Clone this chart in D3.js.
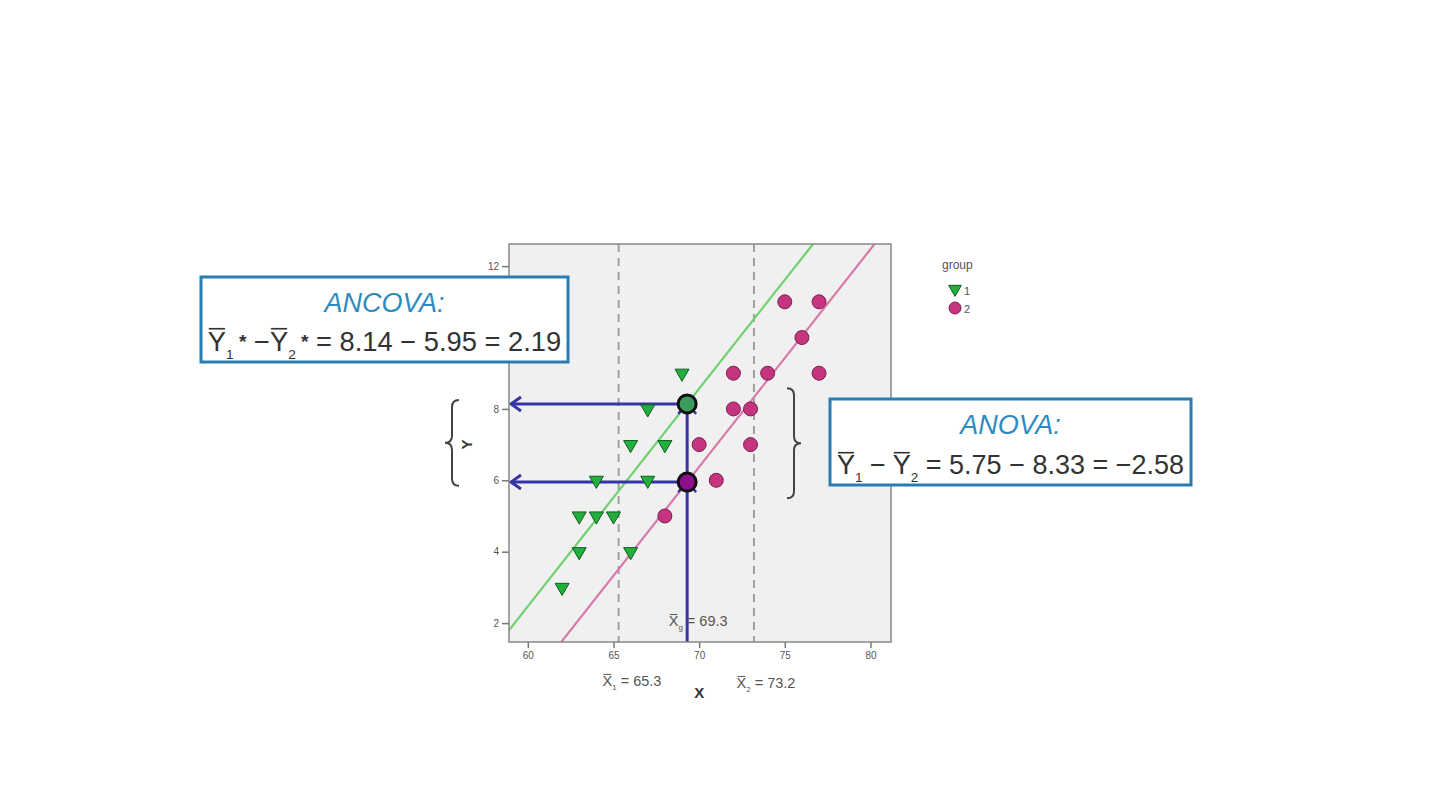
<!DOCTYPE html>
<html><head><meta charset="utf-8">
<script src="https://cdn.jsdelivr.net/npm/d3@7"></script>
<style>html,body{margin:0;padding:0;background:#fff;}svg{display:block;}</style>
</head><body>
<svg id="c" width="1440" height="809"></svg>
<script>
// ---- data ----
const g1x = [62,63,63,64,65,64,67,66,66,68,67,69];
const g1y = [3,4,5,5,5,6,6,4,7,7,8,9];
const g2x = [75,77,76,72,74,77,72,73,70,73,71,68];
const g2y = [11,11,10,9,9,9,8,8,7,7,6,5];
const groupMeansX = [65.3, 73.2];
const grandMeanX = 69.3;
const adjMeans = [8.14, 5.95];
const xTicks = [60,65,70,75,80];
const yTicks = [2,4,6,8,12];
const legendLabels = ["1","2"];

const svg = d3.select('#c');
const FF = 'Liberation Sans, Arial, Helvetica, sans-serif';
const x = d3.scaleLinear().domain([58.9, 81.2]).range([509, 891]);
const y = d3.scaleLinear().domain([1.47, 12.62]).range([642, 244]);

// pooled within-group slope
function stats(xs, ys){const mx=d3.mean(xs),my=d3.mean(ys);let sxy=0,sxx=0;xs.forEach((v,i)=>{sxy+=(v-mx)*(ys[i]-my);sxx+=(v-mx)*(v-mx);});return {sxy,sxx};}
const s1=stats(g1x,g1y), s2=stats(g2x,g2y);
const slope=(s1.sxy+s2.sxy)/(s1.sxx+s2.sxx);

// plot background
svg.append('defs').append('clipPath').attr('id','pc').append('rect')
  .attr('x',x.range()[0]).attr('y',y.range()[1]).attr('width',x.range()[1]-x.range()[0]).attr('height',y.range()[0]-y.range()[1]);
svg.append('rect').attr('x',x.range()[0]).attr('y',y.range()[1]).attr('width',x.range()[1]-x.range()[0]).attr('height',y.range()[0]-y.range()[1])
  .attr('fill','#f0f0f0');

const plot = svg.append('g').attr('clip-path','url(#pc)');
// dashed group means
groupMeansX.forEach(m=>{
  plot.append('line').attr('x1',x(m)).attr('x2',x(m)).attr('y1',y.range()[1]).attr('y2',y.range()[0])
    .attr('stroke','#a0a0a0').attr('stroke-width',2).attr('stroke-dasharray','8,6');
});
// regression lines
const lineCols=['#6fd16f','#d77aab'];
adjMeans.forEach((m,i)=>{
  const xa=58, xb=82;
  plot.append('line').attr('x1',x(xa)).attr('y1',y(m+slope*(xa-grandMeanX)))
    .attr('x2',x(xb)).attr('y2',y(m+slope*(xb-grandMeanX)))
    .attr('stroke',lineCols[i]).attr('stroke-width',2.2);
});
// blue guide lines
const blue='#3535a5';
plot.append('line').attr('x1',x(grandMeanX)).attr('x2',x(grandMeanX)).attr('y1',y.range()[0]).attr('y2',y(adjMeans[0]))
  .attr('stroke',blue).attr('stroke-width',3);
adjMeans.forEach(m=>{
  const yy=y(m), xl=x.range()[0]+2;
  plot.append('line').attr('x1',x(grandMeanX)).attr('x2',xl).attr('y1',yy).attr('y2',yy).attr('stroke',blue).attr('stroke-width',3);
  plot.append('path').attr('d',`M${xl+10},${yy-7}L${xl},${yy}L${xl+10},${yy+7}`).attr('fill','none').attr('stroke',blue).attr('stroke-width',3);
  const cx=x(grandMeanX);
  plot.append('path').attr('d',`M${cx-9},${yy+10}L${cx},${yy}L${cx+9},${yy+10}`).attr('fill','none').attr('stroke',blue).attr('stroke-width',2.5);
});

// rich text helper
function rich(g, tx, ty, parts, size, color, anchor, subScale){
  subScale = subScale || 0.55;
  const t=g.append('text').attr('x',tx).attr('y',ty).attr('font-size',size).attr('fill',color)
    .attr('text-anchor',anchor).attr('font-family',FF);
  let idx=0, shift=0; const bars=[];
  parts.forEach(p=>{
    const ts=t.append('tspan').text(p.t);
    const target = p.sub ? size*0.3 : p.sup ? -size*0.12 : 0;
    const fs = p.sub ? size*subScale : p.sup ? size*0.7 : size;
    ts.attr('font-size',fs);
    if(p.bold) ts.attr('font-weight','bold');
    if(target!==shift){ts.attr('dy',target-shift);shift=target;}
    if(p.bar) bars.push(idx);
    idx+=p.t.length;
  });
  bars.forEach(i=>{
    const e=t.node().getExtentOfChar(i);
    const yy=e.y+size*0.1;
    g.append('line').attr('x1',e.x+1).attr('x2',e.x+e.width-1).attr('y1',yy).attr('y2',yy)
      .attr('stroke',color).attr('stroke-width',Math.max(1,size*0.06));
  });
  return t;
}

// grand mean label
rich(plot, x(grandMeanX)+11, y(2)+3, [{t:'X',bar:true},{t:'g',sub:true},{t:' = 69.3'}], 14.5, '#555', 'middle');

// points group 1 (triangles down)
const tri=d3.symbol().type(d3.symbolTriangle).size(85);
plot.selectAll('.g1').data(g1x.map((v,i)=>[v,g1y[i]])).enter().append('path')
  .attr('d',tri).attr('transform',d=>`translate(${x(d[0])},${y(d[1])}) rotate(180)`)
  .attr('fill','#22b03c').attr('stroke','#145a22').attr('stroke-width',1);
// points group 2 (circles)
plot.selectAll('.g2').data(g2x.map((v,i)=>[v,g2y[i]])).enter().append('circle')
  .attr('cx',d=>x(d[0])).attr('cy',d=>y(d[1])).attr('r',7)
  .attr('fill','#c5347f').attr('stroke','#7a2050').attr('stroke-width',1);
// adjusted mean markers
const bigCols=['#3b9b5c','#8b0f8b'];
adjMeans.forEach((m,i)=>{
  plot.append('circle').attr('cx',x(grandMeanX)).attr('cy',y(m)).attr('r',9).attr('fill',bigCols[i]).attr('stroke','#111').attr('stroke-width',3);
});

// frame
svg.append('rect').attr('x',x.range()[0]).attr('y',y.range()[1]).attr('width',x.range()[1]-x.range()[0]).attr('height',y.range()[0]-y.range()[1])
  .attr('fill','none').attr('stroke','#888').attr('stroke-width',1.5);

// axes
const xAxis = svg.append('g').attr('transform',`translate(0,${y.range()[0]})`)
  .call(d3.axisBottom(x).tickValues(xTicks).tickSize(6).tickPadding(4));
const yAxis = svg.append('g').attr('transform',`translate(${x.range()[0]},0)`)
  .call(d3.axisLeft(y).tickValues(yTicks).tickSize(7).tickPadding(3));
[xAxis,yAxis].forEach(a=>{
  a.select('.domain').remove();
  a.selectAll('line').attr('stroke','#777').attr('stroke-width',1.5);
  a.selectAll('text').attr('font-family',FF).attr('font-size',10).attr('fill','#555');
});
// axis titles
svg.append('text').attr('x',x(70)).attr('y',698).attr('text-anchor','middle').attr('font-family',FF).attr('font-size',15).attr('font-weight','bold').attr('fill','#333').text('X');
svg.append('text').attr('transform',`translate(472,${y(7)}) rotate(-90)`).attr('text-anchor','middle').attr('font-family',FF).attr('font-size',15).attr('font-weight','bold').attr('fill','#333').text('Y');

// mean labels under axis
rich(svg, 632, 686, [{t:'X',bar:true},{t:'1',sub:true},{t:' = 65.3'}], 14.5, '#555', 'middle');
rich(svg, 766, 688, [{t:'X',bar:true},{t:'2',sub:true},{t:' = 73.2'}], 14.5, '#555', 'middle');

// braces
function brace(xm, y1, y2, dir, w){
  const ym=(y1+y2)/2, r=7;
  const d=`M${xm+dir*-r},${y1} Q${xm},${y1} ${xm},${y1+r} L${xm},${ym-r} Q${xm},${ym} ${xm+dir*w},${ym} Q${xm},${ym} ${xm},${ym+r} L${xm},${y2-r} Q${xm},${y2} ${xm+dir*-r},${y2}`;
  svg.append('path').attr('d',d).attr('fill','none').attr('stroke','#444').attr('stroke-width',2);
}
brace(452, y(8.25), y(5.85), -1, 7);
brace(794, y(8.58), y(5.5), 1, 7);

// legend
svg.append('text').attr('x',942).attr('y',269).attr('font-family',FF).attr('font-size',12).attr('fill','#555').text('group');
svg.append('path').attr('d',d3.symbol().type(d3.symbolTriangle).size(70)).attr('transform','translate(955,289) rotate(180)')
  .attr('fill','#22b03c').attr('stroke','#145a22');
svg.append('circle').attr('cx',955).attr('cy',308).attr('r',6).attr('fill','#c5347f').attr('stroke','#7a2050');
legendLabels.forEach((l,i)=>svg.append('text').attr('x',964).attr('y',295+i*18).attr('font-family',FF).attr('font-size',11).attr('fill','#555').text(l));

// boxes
const boxBlue='#2a7db2', titleBlue='#2e8bc0';
function box(bx,by,bw,bh,title,parts,eqSize){
  const g=svg.append('g');
  g.append('rect').attr('x',bx).attr('y',by).attr('width',bw).attr('height',bh).attr('fill','#fff').attr('stroke',boxBlue).attr('stroke-width',3);
  g.append('text').attr('x',bx+bw/2).attr('y',by+35).attr('text-anchor','middle').attr('font-family',FF)
    .attr('font-style','italic').attr('font-size',27).attr('fill',titleBlue).text(title);
  rich(g, bx+bw/2, by+bh-11, parts, eqSize, '#333', 'middle', 0.5);
}
box(201,277,367,85,'ANCOVA:',[
  {t:'Y',bar:true},{t:'1',sub:true},{t:' *',sup:true,bold:true},{t:' −'},{t:'Y',bar:true},{t:'2',sub:true},{t:' *',sup:true,bold:true},
  {t:' = 8.14 − 5.95 = 2.19'}],27.3);
box(830,399,361,86,'ANOVA:',[
  {t:'Y',bar:true},{t:'1',sub:true},{t:' − '},{t:'Y',bar:true},{t:'2',sub:true},{t:' = 5.75 − 8.33 = −2.58'}],27);
</script>
</body></html>
